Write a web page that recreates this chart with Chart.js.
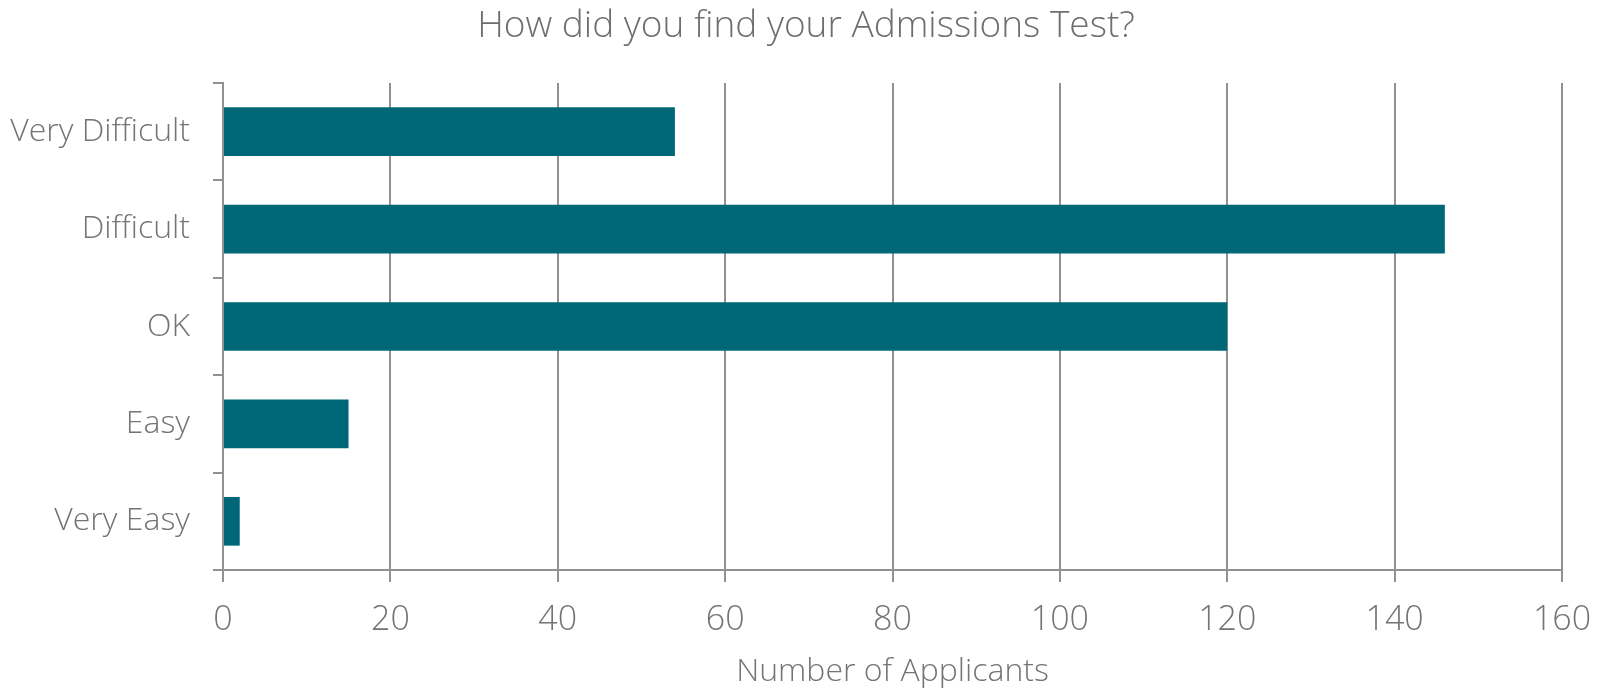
<!DOCTYPE html>
<html>
<head>
<meta charset="utf-8">
<title>How did you find your Admissions Test?</title>
<script src="https://cdn.jsdelivr.net/npm/chart.js@4/dist/chart.umd.min.js"></script>
<style>
  html, body { margin: 0; padding: 0; background: #fff; }
  #wrap { width: 1600px; height: 691px; position: relative; }
</style>
</head>
<body>
<div id="wrap"><canvas id="chart"></canvas></div>
<script>
// ── Data ───────────────────────────────────────────────────────
const categories = ["Very Difficult", "Difficult", "OK", "Easy", "Very Easy"];
const applicants = [54, 146, 120, 15, 2];
const xTicks     = [0, 20, 40, 60, 80, 100, 120, 140, 160];

const TEXT  = "#747474";
const LINE  = "#919191";
const BAR   = "#006778";
const FONT  = "'Open Sans', sans-serif";

// left/right padding unequal so the title sits where the original had it
const PAD_LEFT  = 50;
const PAD_RIGHT = 38;

// y labels reach into the left padding; widen the y box so they are not clipped
const unclipY = {
  id: "unclipY",
  afterLayout(chart) {
    const y = chart.scales.y;
    y.width += y.left;
    y.left = 0;
  },
};

new Chart(document.getElementById("chart"), {
  type: "bar",
  data: {
    labels: categories,
    datasets: [{
      label: "Number of Applicants",
      data: applicants,
      backgroundColor: BAR,
      borderWidth: 0,
      barPercentage: 0.5,
      categoryPercentage: 1,
    }],
  },
  plugins: [unclipY],
  options: {
    indexAxis: "y",
    responsive: true,
    maintainAspectRatio: false,
    animation: false,
    layout: { padding: { left: PAD_LEFT, right: PAD_RIGHT, top: 0, bottom: 0 } },
    plugins: {
      legend: { display: false },
      tooltip: { enabled: false },
      title: {
        display: true,
        text: "How did you find your Admissions Test?",
        color: "#6e6e6e",
        font: { family: FONT, size: 37, weight: 300 },
        padding: { top: 4.5, bottom: 34.1 },
      },
    },
    scales: {
      x: {
        min: 0,
        max: 160,
        afterBuildTicks: (axis) => { axis.ticks = xTicks.map((v) => ({ value: v })); },
        afterFit: (axis) => { axis.height = 121; axis.paddingRight = PAD_RIGHT; },
        border: { display: true, color: LINE, width: 2 },
        grid: { color: LINE, lineWidth: 2, tickLength: 12, drawTicks: true },
        ticks: { color: TEXT, font: { family: FONT, size: 34, weight: 300 }, padding: 18 },
        title: {
          display: true,
          text: "Number of Applicants",
          color: TEXT,
          font: { family: FONT, size: 32, weight: 300 },
          padding: { top: 0, bottom: 0 },
        },
      },
      y: {
        afterFit: (axis) => { axis.width = 223 - PAD_LEFT; },
        border: { display: true, color: LINE, width: 2 },
        grid: { drawOnChartArea: false, color: LINE, lineWidth: 2, tickLength: 10, offset: true },
        ticks: { color: TEXT, font: { family: FONT, size: 32, weight: 300 }, padding: 23 },
      },
    },
  },
});
</script>
</body>
</html>
